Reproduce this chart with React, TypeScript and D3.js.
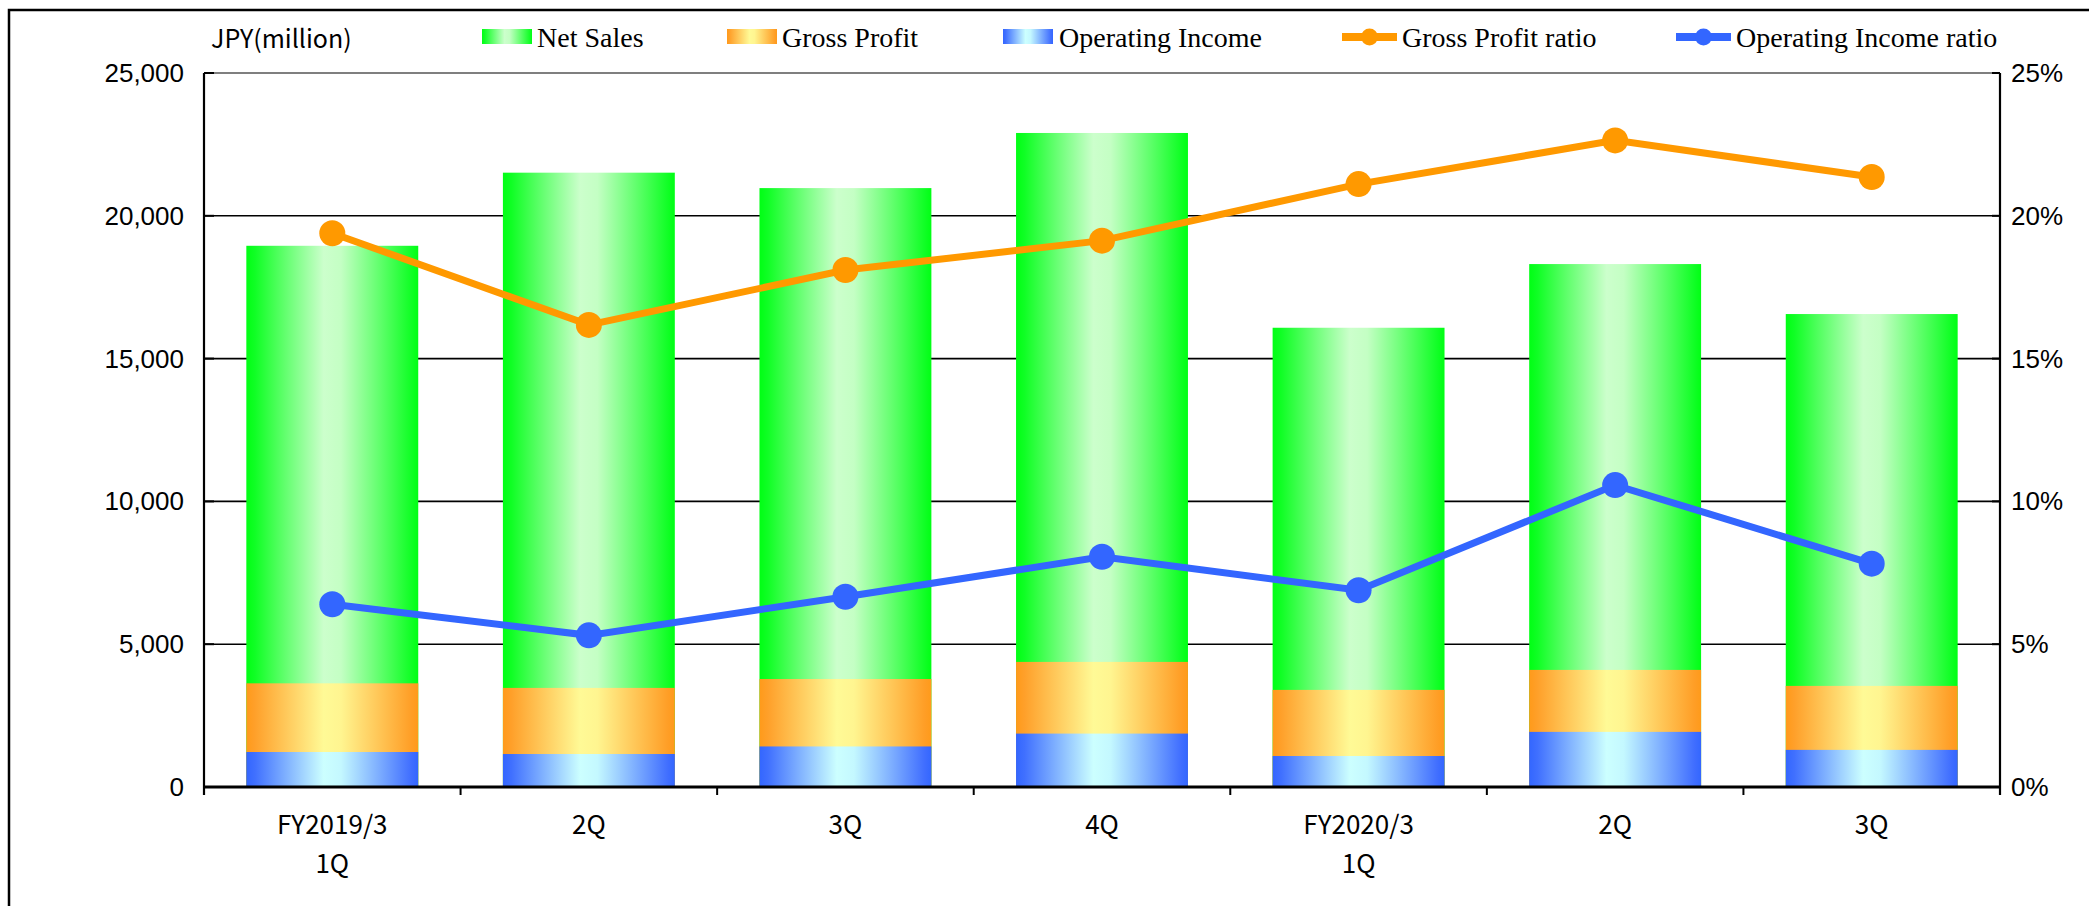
import React from "react";
import * as d3 from "d3";

// Quarterly figures, JPY million
const quarters = ["FY2019/3\n1Q", "2Q", "3Q", "4Q", "FY2020/3\n1Q", "2Q", "3Q"];
const netSales = [18950, 21510, 20970, 22900, 16080, 18310, 16560];
const grossProfit = [3630, 3470, 3780, 4380, 3400, 4100, 3540];
const operatingIncome = [1225, 1155, 1420, 1870, 1085, 1930, 1300];
// Ratios, percent
const grossProfitRatio = [19.39, 16.18, 18.1, 19.13, 21.11, 22.64, 21.36];
const operatingIncomeRatio = [6.4, 5.31, 6.66, 8.06, 6.89, 10.57, 7.82];

const leftTicks = [0, 5000, 10000, 15000, 20000, 25000];
const rightTicks = [0, 5, 10, 15, 20, 25];

const W = 2089;
const H = 906;
const plot = { left: 204, right: 2000, top: 73, bottom: 787 };

const ORANGE_LINE = "#FF9900";
const BLUE_LINE = "#3366FF";

export default function App() {
  const idx = quarters.map((_, i) => String(i));
  const x = d3
    .scaleBand<string>()
    .domain(idx)
    .range([plot.left, plot.right])
    .paddingInner(0.33)
    .paddingOuter(0.165);
  const y = d3.scaleLinear().domain([0, 25000]).range([plot.bottom, plot.top]);
  const yr = d3.scaleLinear().domain([0, 25]).range([plot.bottom, plot.top]);
  const step = x.step();
  const bw = x.bandwidth();
  const cx = (i: number) => (x(String(i)) as number) + bw / 2;

  const line = d3
    .line<number>()
    .x((_, i) => cx(i))
    .y((d) => yr(d));

  const fmt = d3.format(",");

  const bars = (vals: number[], fill: string) =>
    vals.map((v, i) => (
      <rect
        key={i}
        x={x(String(i))}
        y={y(v)}
        width={bw}
        height={y(0) - y(v)}
        fill={fill}
      />
    ));

  const legendText = {
    fontFamily: "'Liberation Serif', 'Times New Roman', serif",
    fontSize: 28,
    fill: "#000",
  } as const;

  return (
    <svg
      width={W}
      height={H}
      style={{ position: "absolute", left: 0, top: 0, background: "#fff" }}
    >
      <defs>
        <linearGradient id="gSales" x1="0" x2="1" y1="0" y2="0">
          <stop offset="0" stopColor="#00FF14" />
          <stop offset="0.05" stopColor="#10FF25" />
          <stop offset="0.45" stopColor="#CCFFCC" />
          <stop offset="0.55" stopColor="#C4FFC4" />
          <stop offset="0.96" stopColor="#10FF25" />
          <stop offset="1" stopColor="#00FF14" />
        </linearGradient>
        <linearGradient id="gGross" x1="0" x2="1" y1="0" y2="0">
          <stop offset="0" stopColor="#FF9A1A" />
          <stop offset="0.05" stopColor="#FFA02A" />
          <stop offset="0.45" stopColor="#FFFA96" />
          <stop offset="0.55" stopColor="#FFF590" />
          <stop offset="0.96" stopColor="#FF9E26" />
          <stop offset="1" stopColor="#FF9A1A" />
        </linearGradient>
        <linearGradient id="gOper" x1="0" x2="1" y1="0" y2="0">
          <stop offset="0" stopColor="#3366FF" />
          <stop offset="0.05" stopColor="#4070FF" />
          <stop offset="0.45" stopColor="#CCFFFF" />
          <stop offset="0.55" stopColor="#C4F8FF" />
          <stop offset="0.96" stopColor="#406EFF" />
          <stop offset="1" stopColor="#3366FF" />
        </linearGradient>
      </defs>

      {/* outer frame */}
      <rect x={9} y={10} width={W + 20} height={H + 20} fill="none" stroke="#000" strokeWidth={2.5} />

      {/* gridlines */}
      {leftTicks.slice(1).map((t) => (
        <line
          key={t}
          x1={plot.left}
          x2={plot.right}
          y1={y(t)}
          y2={y(t)}
          stroke={t === 25000 ? "#555" : "#000"}
          strokeWidth={1.6}
        />
      ))}

      {/* bars, drawn from zero and overlaid */}
      {bars(netSales, "url(#gSales)")}
      {bars(grossProfit, "url(#gGross)")}
      {bars(operatingIncome, "url(#gOper)")}

      {/* axes */}
      <line x1={plot.left} x2={plot.left} y1={plot.top} y2={plot.bottom + 8} stroke="#000" strokeWidth={2.2} />
      <line x1={plot.right} x2={plot.right} y1={plot.top} y2={plot.bottom + 8} stroke="#000" strokeWidth={2.2} />
      <line x1={plot.left} x2={plot.right} y1={plot.bottom} y2={plot.bottom} stroke="#000" strokeWidth={3} />
      {leftTicks.slice(1).map((t) => (
        <line key={"lt" + t} x1={plot.left} x2={plot.left + 10} y1={y(t)} y2={y(t)} stroke="#000" strokeWidth={2} />
      ))}
      {rightTicks.slice(1).map((t) => (
        <line key={"rt" + t} x1={plot.right - 8} x2={plot.right} y1={yr(t)} y2={yr(t)} stroke="#000" strokeWidth={2} />
      ))}
      {d3.range(1, quarters.length).map((k) => (
        <line
          key={"ct" + k}
          x1={plot.left + k * step}
          x2={plot.left + k * step}
          y1={plot.bottom}
          y2={plot.bottom + 8}
          stroke="#000"
          strokeWidth={2}
        />
      ))}

      {/* ratio lines */}
      <path d={line(grossProfitRatio) ?? ""} fill="none" stroke={ORANGE_LINE} strokeWidth={7} />
      {grossProfitRatio.map((v, i) => (
        <circle key={"gp" + i} cx={cx(i)} cy={yr(v)} r={13} fill={ORANGE_LINE} />
      ))}
      <path d={line(operatingIncomeRatio) ?? ""} fill="none" stroke={BLUE_LINE} strokeWidth={7} />
      {operatingIncomeRatio.map((v, i) => (
        <circle key={"oi" + i} cx={cx(i)} cy={yr(v)} r={13} fill={BLUE_LINE} />
      ))}

      {/* left axis labels */}
      {leftTicks.map((t) => (
        <text
          key={"ll" + t}
          x={184}
          y={y(t)}
          textAnchor="end"
          dominantBaseline="central"
          fontFamily="'Liberation Sans', Arial, sans-serif"
          fontSize={26}
          fill="#000"
        >
          {fmt(t)}
        </text>
      ))}
      {/* right axis labels */}
      {rightTicks.map((t) => (
        <text
          key={"rl" + t}
          x={2011}
          y={yr(t)}
          textAnchor="start"
          dominantBaseline="central"
          fontFamily="'Liberation Sans', Arial, sans-serif"
          fontSize={26}
          fill="#000"
        >
          {t + "%"}
        </text>
      ))}

      {/* category labels */}
      {quarters.map((q, i) =>
        q.split("\n").map((part, j) => (
          <text
            key={"q" + i + "-" + j}
            x={cx(i)}
            y={822 + j * 39}
            textAnchor="middle"
            dominantBaseline="central"
            fontFamily="'Noto Sans CJK JP', sans-serif"
            fontSize={26}
            fill="#000"
          >
            {part}
          </text>
        ))
      )}

      {/* unit label */}
      <text
        x={211}
        y={37}
        dominantBaseline="central"
        fontFamily="'Noto Sans CJK JP', sans-serif"
        fontSize={25}
        fill="#000"
      >
        JPY(million)
      </text>

      {/* legend */}
      <rect x={482} y={29} width={50} height={15} fill="url(#gSales)" />
      <text x={537} y={37} dominantBaseline="central" {...legendText}>Net Sales</text>
      <rect x={727} y={29} width={50} height={15} fill="url(#gGross)" />
      <text x={782} y={37} dominantBaseline="central" {...legendText}>Gross Profit</text>
      <rect x={1003} y={29} width={50} height={15} fill="url(#gOper)" />
      <text x={1059} y={37} dominantBaseline="central" {...legendText}>Operating Income</text>
      <line x1={1342} x2={1397} y1={37} y2={37} stroke={ORANGE_LINE} strokeWidth={8} />
      <circle cx={1369.5} cy={37} r={8.5} fill={ORANGE_LINE} />
      <text x={1402} y={37} dominantBaseline="central" {...legendText}>Gross Profit ratio</text>
      <line x1={1676} x2={1731} y1={37} y2={37} stroke={BLUE_LINE} strokeWidth={8} />
      <circle cx={1703.5} cy={37} r={8.5} fill={BLUE_LINE} />
      <text x={1736} y={37} dominantBaseline="central" {...legendText}>Operating Income ratio</text>
    </svg>
  );
}
